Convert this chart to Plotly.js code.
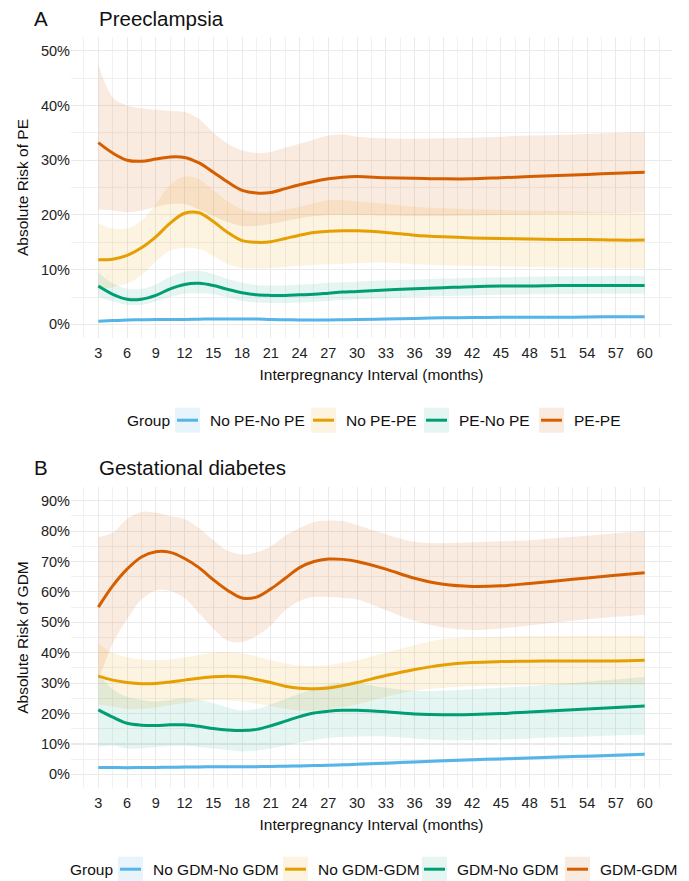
<!DOCTYPE html>
<html>
<head>
<meta charset="utf-8">
<script src="https://cdn.plot.ly/plotly-3.0.1.min.js"></script>
<style>html,body{margin:0;padding:0;background:#fff;}#chart{width:689px;height:881px;}</style>
</head>
<body>
<div id="chart"></div>
<script>
// ---------- DATA ----------
const months = [3,4.5,6,7.5,9,10.5,12,13.5,15,16.5,18,19.5,21,22.5,24,25.5,27,28.5,30,33,36,39,42,45,48,51,54,57,60];
const xTicks = [3,6,9,12,15,18,21,24,27,30,33,36,39,42,45,48,51,54,57,60];

// Panel A: Preeclampsia (absolute risk, %)
const groupsA = ["No PE-No PE","No PE-PE","PE-No PE","PE-PE"];
const aNoNoMid = [0.6,0.7,0.8,0.85,0.9,0.9,0.9,0.95,1.0,1.0,1.0,1.0,0.9,0.85,0.8,0.8,0.8,0.85,0.9,1.0,1.1,1.2,1.25,1.3,1.3,1.3,1.35,1.4,1.4];
const aNoNoLo  = [0.4,0.5,0.6,0.65,0.7,0.7,0.7,0.75,0.8,0.8,0.8,0.8,0.7,0.65,0.6,0.6,0.6,0.65,0.7,0.8,0.9,1.0,1.05,1.1,1.1,1.1,1.1,1.15,1.15];
const aNoNoHi  = [0.8,0.9,1.0,1.05,1.1,1.1,1.1,1.15,1.2,1.2,1.2,1.2,1.1,1.05,1.0,1.0,1.0,1.05,1.1,1.2,1.3,1.4,1.45,1.5,1.5,1.5,1.6,1.65,1.65];
const aNoPeMid = [11.8,11.9,12.6,14.0,16.0,18.5,20.3,20.4,18.8,16.8,15.3,15.0,15.1,15.7,16.3,16.8,17.0,17.1,17.1,16.8,16.3,16.0,15.8,15.7,15.6,15.5,15.5,15.4,15.4];
const aNoPeHi  = [18.5,17.5,17.5,19.0,22.0,25.5,27.0,26.5,24.5,22.5,21.0,20.5,20.5,21.0,21.5,22.2,22.7,22.7,22.5,22.0,21.5,21.2,21.0,20.9,20.8,20.7,20.6,20.5,20.4];
const aNoPeLo  = [6.5,6.8,7.5,9.0,11.5,13.5,14.0,13.8,12.5,11.0,10.3,10.2,10.3,10.5,10.7,10.9,11.0,11.1,11.2,11.3,11.0,10.8,10.7,10.6,10.5,10.4,10.3,10.3,10.2];
const aPeNoMid = [7.0,5.5,4.6,4.6,5.3,6.5,7.3,7.5,7.1,6.4,5.8,5.4,5.3,5.3,5.4,5.5,5.7,5.9,6.0,6.3,6.5,6.7,6.9,7.0,7.0,7.1,7.1,7.1,7.1];
const aPeNoHi  = [9.5,7.5,6.5,6.5,7.3,8.7,9.6,9.8,9.2,8.3,7.6,7.2,7.1,7.1,7.3,7.4,7.6,7.7,7.8,8.0,8.2,8.4,8.5,8.6,8.7,8.8,8.8,8.9,8.9];
const aPeNoLo  = [5.0,4.2,3.6,3.6,4.2,5.0,5.6,5.7,5.5,4.9,4.3,4.0,3.9,3.9,4.0,4.1,4.3,4.5,4.6,4.8,5.0,5.2,5.3,5.4,5.5,5.5,5.6,5.6,5.6];
const aPePeMid = [33.2,31.3,30.0,29.8,30.2,30.6,30.5,29.5,27.8,26.0,24.5,24.0,24.1,24.8,25.5,26.1,26.6,26.9,27.0,26.8,26.7,26.6,26.6,26.8,27.0,27.2,27.4,27.6,27.8];
const aPePeHi  = [47.5,41.5,40.0,39.5,39.2,39.0,38.8,37.5,35.0,33.0,31.8,31.3,31.5,32.3,33.0,33.8,34.5,34.7,34.3,34.0,33.9,34.0,34.1,34.3,34.5,34.6,34.8,35.0,35.2];
const aPePeLo  = [21.0,20.8,20.5,20.8,21.5,22.0,22.0,21.0,19.8,18.7,18.0,18.0,18.4,18.9,19.4,19.8,20.0,20.0,20.0,19.9,19.8,19.8,19.9,20.0,20.1,20.2,20.3,20.4,20.5];

// Panel B: Gestational diabetes (absolute risk, %)
const groupsB = ["No GDM-No GDM","No GDM-GDM","GDM-No GDM","GDM-GDM"];
const bNoNoMid = [2.3,2.25,2.2,2.25,2.3,2.35,2.4,2.45,2.5,2.5,2.5,2.55,2.6,2.7,2.8,2.9,3.0,3.15,3.3,3.7,4.1,4.5,4.8,5.1,5.4,5.7,6.0,6.3,6.6];
const bNoNoLo  = [1.8,1.75,1.7,1.75,1.8,1.85,1.9,1.95,2.0,2.0,2.0,2.05,2.1,2.2,2.3,2.4,2.5,2.6,2.75,3.1,3.5,3.9,4.2,4.5,4.8,5.1,5.4,5.7,6.0];
const bNoNoHi  = [2.8,2.75,2.7,2.75,2.8,2.85,2.9,2.95,3.0,3.0,3.0,3.05,3.1,3.2,3.3,3.4,3.5,3.7,3.85,4.3,4.7,5.1,5.4,5.7,6.0,6.3,6.6,6.9,7.2];
const bNoGdMid = [32.3,31.0,30.2,29.8,29.9,30.4,31.0,31.6,32.1,32.3,32.0,31.2,30.2,29.0,28.3,28.2,28.4,29.2,30.2,32.5,34.5,36.0,36.8,37.1,37.2,37.3,37.3,37.3,37.5];
const bNoGdHi  = [43.0,40.0,38.5,37.8,37.5,37.8,38.5,39.3,40.0,40.2,39.8,38.8,37.5,36.5,35.8,35.7,36.0,36.7,37.5,40.0,42.5,44.5,45.0,45.3,45.5,45.5,45.6,45.6,45.7];
const bNoGdLo  = [23.0,22.3,21.5,21.5,22.0,22.8,23.5,24.2,24.5,24.4,24.0,23.3,22.5,21.6,21.0,21.0,21.5,22.2,23.0,25.5,27.5,28.5,29.0,29.2,29.3,29.4,29.5,29.5,29.5];
const bGdNoMid = [21.2,18.8,16.8,16.2,16.1,16.3,16.3,15.8,15.1,14.6,14.4,14.8,16.0,17.5,19.0,20.2,20.8,21.1,21.1,20.6,19.9,19.6,19.7,20.0,20.5,21.0,21.5,22.0,22.5];
const bGdNoHi  = [33.0,28.0,25.5,24.5,24.0,24.5,25.0,24.5,23.5,22.0,21.0,21.5,23.0,24.8,26.5,28.2,29.5,30.0,30.0,28.5,27.5,27.5,28.0,28.5,29.0,29.7,30.5,31.2,32.0];
const bGdNoLo  = [9.0,9.5,8.5,8.5,9.0,9.3,9.5,9.0,8.5,8.0,7.5,7.8,8.5,9.5,10.5,11.3,12.0,12.3,12.5,12.5,11.8,11.3,11.3,11.5,11.8,12.2,12.5,12.8,13.0];
const bGdGdMid = [55.0,62.0,67.5,71.5,73.2,73.0,71.0,68.0,64.0,60.5,58.0,58.3,61.0,64.5,68.0,70.0,70.8,70.7,70.0,67.5,64.5,62.5,61.8,62.0,62.8,63.7,64.6,65.5,66.3];
const bGdGdHi  = [78.0,79.5,84.0,86.3,86.0,85.0,84.0,81.0,77.0,73.5,72.3,73.0,75.0,78.5,81.0,83.0,83.5,83.3,82.0,79.0,76.5,76.0,76.3,76.7,77.0,77.8,78.5,79.3,80.0];
const bGdGdLo  = [31.0,43.0,51.0,57.5,60.5,60.3,58.0,53.0,48.0,44.0,43.5,45.5,49.0,54.0,57.0,58.3,58.3,58.0,57.5,54.0,50.5,48.3,47.5,48.0,49.0,50.0,51.0,51.8,52.5];

// ---------- STYLE ----------
const lineColors = ["#56B4E9","#E69F00","#009E73","#D55E00"];
const bandColors = ["rgba(86,180,233,0.14)","rgba(230,159,0,0.12)","rgba(0,158,115,0.10)","rgba(213,94,0,0.12)"];
const FONT = "Liberation Sans, Arial, sans-serif";

const panelA = [[aNoNoLo,aNoNoMid,aNoNoHi],[aNoPeLo,aNoPeMid,aNoPeHi],[aPeNoLo,aPeNoMid,aPeNoHi],[aPePeLo,aPePeMid,aPePeHi]];
const panelB = [[bNoNoLo,bNoNoMid,bNoNoHi],[bNoGdLo,bNoGdMid,bNoGdHi],[bGdNoLo,bGdNoMid,bGdNoHi],[bGdGdLo,bGdGdMid,bGdGdHi]];

const traces = [];
function addPanel(panel, names, xa, ya){
  panel.forEach((s,i)=>{
    traces.push({x:months,y:s[0],xaxis:xa,yaxis:ya,mode:'lines',line:{width:0,shape:'spline',smoothing:1},showlegend:false,hoverinfo:'skip'});
    traces.push({x:months,y:s[2],xaxis:xa,yaxis:ya,mode:'lines',line:{width:0,shape:'spline',smoothing:1},fill:'tonexty',fillcolor:bandColors[i],showlegend:false,hoverinfo:'skip'});
  });
  panel.forEach((s,i)=>{
    traces.push({x:months,y:s[1],xaxis:xa,yaxis:ya,mode:'lines',name:names[i],line:{width:3,color:lineColors[i],shape:'spline',smoothing:1},showlegend:false});
  });
}
addPanel(panelA, groupsA, 'x', 'y');
addPanel(panelB, groupsB, 'x2', 'y2');

// geometry helpers (pixel -> paper)
const L=71, R=672, T=37.3, B=788.3;
const W=R-L, H=B-T;
const px = v => (v-L)/W;
const py = v => (B-v)/H;

const xCommon = {
  range:[0.15,62.85], tickvals:xTicks, showgrid:true, gridcolor:'#EAEAEA', gridwidth:1.1,
  minor:{dtick:1.5, tick0:0, showgrid:true, gridcolor:'#F0F0F0', gridwidth:0.9},
  zeroline:false, showline:false, ticks:'', ticklabelstandoff:4,
  tickfont:{family:FONT,size:14.5,color:'#222'},
  title:{text:'Interpregnancy Interval (months)', font:{family:FONT,size:15.5,color:'#111'}, standoff:9}
};
const yCommon = {
  showgrid:true, gridcolor:'#EAEAEA', gridwidth:1.1, zeroline:false, showline:false, ticks:'',
  ticksuffix:'%', tickfont:{family:FONT,size:14.5,color:'#222'}
};

const annotations = [];
const shapes = [];
function txt(text,x,y,size,anchor){
  annotations.push({text:text,xref:'paper',yref:'paper',x:px(x),y:py(y),xanchor:anchor||'left',yanchor:'middle',showarrow:false,font:{family:FONT,size:size,color:'#111'}});
}
txt('A',40.5,18.8,20.5,'center');
txt('Preeclampsia',96.5,18.8,20.5,'left');
txt('B',40.5,467.5,20.5,'center');
txt('Gestational diabetes',96.5,467.5,20.5,'left');

function legend(names, yc, groupX, boxXs, labelXs){
  txt('Group', groupX, yc, 15.5, 'left');
  names.forEach((n,i)=>{
    const bx=boxXs[i];
    shapes.push({type:'rect',xref:'paper',yref:'paper',x0:px(bx),x1:px(bx+25),y0:py(yc-13),y1:py(yc+12),fillcolor:bandColors[i],line:{width:0}});
    shapes.push({type:'line',xref:'paper',yref:'paper',x0:px(bx+2),x1:px(bx+23),y0:py(yc-0.5),y1:py(yc-0.5),line:{color:lineColors[i],width:3}});
    txt(n, labelXs[i], yc, 15.5, 'left');
  });
}
legend(groupsA, 421, 125, [175,311,424,539], [208,344,457,572]);
legend(groupsB, 870, 68, [118,283,422,565], [151,316,455,598]);

const layout = {
  width:689, height:881, paper_bgcolor:'#fff', plot_bgcolor:'#fff',
  margin:{l:L, r:689-R, t:T, b:881-B},
  showlegend:false,
  font:{family:FONT, color:'#111'},
  xaxis:Object.assign({}, xCommon, {domain:[0,1], anchor:'y'}),
  xaxis2:Object.assign({}, xCommon, {domain:[0,1], anchor:'y2'}),
  yaxis:Object.assign({}, yCommon, {domain:[py(338.3),1], range:[-2.48,52.5], dtick:10, tick0:0,
    minor:{dtick:5, tick0:0, showgrid:true, gridcolor:'#F0F0F0', gridwidth:0.9},
    title:{text:'Absolute Risk of PE', font:{family:FONT,size:15.5,color:'#111'}, standoff:8}}),
  yaxis2:Object.assign({}, yCommon, {domain:[0,py(487.3)], range:[-4.47,94.5], dtick:10, tick0:0,
    minor:{dtick:5, tick0:0, showgrid:true, gridcolor:'#F0F0F0', gridwidth:0.9},
    title:{text:'Absolute Risk of GDM', font:{family:FONT,size:15.5,color:'#111'}, standoff:8}}),
  annotations:annotations,
  shapes:shapes
};

Plotly.newPlot('chart', traces, layout, {displayModeBar:false, staticPlot:true});
</script>
</body>
</html>
